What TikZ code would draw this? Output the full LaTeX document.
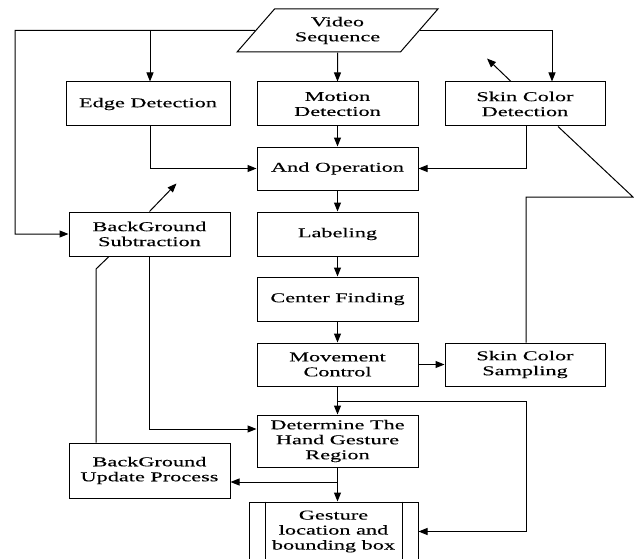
\documentclass[tikz,border=0pt]{standalone}
\usepackage{fontspec}
\setmainfont{Liberation Serif}[FakeStretch=1.65,FakeBold=0.2]
\usetikzlibrary{arrows.meta,shapes.geometric}
\begin{document}
\begin{tikzpicture}[x=1pt,y=-1pt,
  every node/.style={font=\fontsize{13.5}{15}\selectfont},
  box/.style={draw, line width=1pt, inner sep=0pt, align=center},
  arr/.style={-{Triangle[length=9pt,width=7pt]}, line width=1pt},
  ln/.style={line width=1pt}]
\clip (0,0) rectangle (634,559);
\fill[white] (0,0) rectangle (634,559);

\node[draw, line width=1pt, trapezium, trapezium left angle=47, trapezium right angle=133,
      trapezium stretches=true, minimum width=201pt, minimum height=43pt, inner sep=0pt, align=center]
      (vs) at (337.5,30.5) {Video\\Sequence};

\node[box, minimum width=164pt, minimum height=44pt] (edge) at (148,104) {Edge Detection};
\node[box, minimum width=161pt, minimum height=44pt] (motion) at (337.5,104) {Motion\\Detection};
\node[box, minimum width=160pt, minimum height=44pt] (skindet) at (525,104) {Skin Color\\Detection};
\node[box, minimum width=161pt, minimum height=43pt] (andop) at (337.5,168.5) {And Operation};
\node[box, minimum width=161pt, minimum height=44pt] (label) at (337.5,234) {Labeling};
\node[box, minimum width=161pt, minimum height=44pt] (center) at (337.5,299) {Center Finding};
\node[box, minimum width=161pt, minimum height=43pt] (move) at (337.5,364.5) {Movement\\Control};
\node[box, minimum width=160pt, minimum height=43pt] (skinsamp) at (525,364.5) {Skin Color\\Sampling};
\node[box, minimum width=161pt, minimum height=44pt] (bgsub) at (149.5,234) {BackGround\\Subtraction};
\node[box, minimum width=161pt, minimum height=52pt] (det) at (337.5,441) {Determine The\\Hand Gesture\\Region};
\node[box, minimum width=161pt, minimum height=55pt] (bgupd) at (149.5,470.5) {BackGround\\Update Process};
\node[box, minimum width=169pt, minimum height=59pt] (gest) at (333.5,531.5) {Gesture\\location and\\bounding box};
\draw[ln] ([xshift=17pt]gest.north west) -- ([xshift=17pt]gest.south west);
\draw[ln] ([xshift=-16pt]gest.north east) -- ([xshift=-16pt]gest.south east);

% connectors from video sequence
\coordinate (tl) at (15,30.5);
\draw[arr] (vs.west) -- (tl) |- (bgsub.west);
\draw[arr] ([xshift=2pt]edge.north |- vs.west) -- ([xshift=2pt]edge.north);
\draw[arr] (vs.east) -| ([xshift=27pt]skindet.north);
\draw[arr] (vs.south) -- (motion.north);

\draw[arr] ([xshift=2pt]edge.south) |- (andop.west);
\draw[arr] ([xshift=1pt]skindet.south) |- (andop.east);
\draw[arr] (motion.south) -- (andop.north);
\draw[arr] ([xshift=-14pt]skindet.north) -- ++(-24,-23);

\coordinate (zz) at (633,197);
\draw[ln] ([xshift=33pt]skindet.south) -- (zz) -- ([xshift=1pt]skinsamp.north |- zz) -- ([xshift=1pt]skinsamp.north);

\draw[arr] (andop.south) -- (label.north);
\draw[arr] (label.south) -- (center.north);
\draw[arr] (center.south) -- (move.north);
\draw[arr] (move.east) -- (skinsamp.west);
\draw[arr] (move.south) -- (det.north);

\coordinate (b1) at (337.5,401);
\draw[arr] (b1) -- ([xshift=1pt]skinsamp.south |- b1) |- (gest.east);

\draw[arr] (bgsub.south) |- ([yshift=12pt]det.west);
\coordinate (kk) at (96,269);
\draw[ln] ([xshift=-53.5pt]bgupd.north) -- (kk) -- ([xshift=-40.5pt]bgsub.south);
\draw[arr] (bgsub.north) -- ++(27,-28);

\draw[arr] (det.south) -- (det.south |- gest.north);
\coordinate (b2) at (337.5,482);
\draw[arr] (b2) -- (bgupd.east |- b2);
\end{tikzpicture}
\end{document}
